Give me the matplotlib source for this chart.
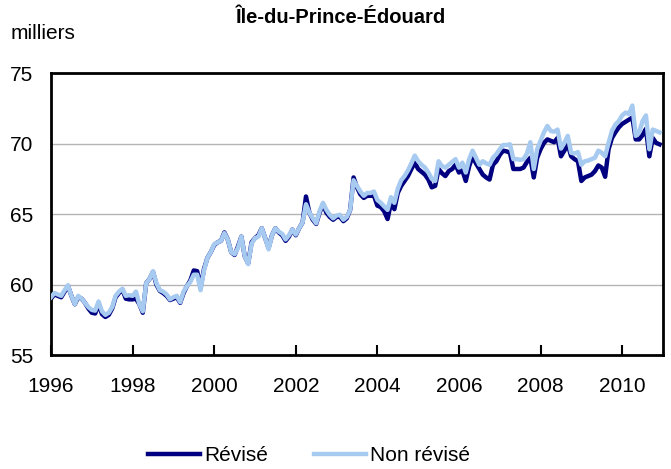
import numpy as np
import matplotlib
matplotlib.use('Agg')
import matplotlib.pyplot as plt

plt.rcParams['font.family'] = ['Liberation Sans', 'DejaVu Sans']

# données mensuelles, janvier 1996 à décembre 2010 (milliers)
non_revise = [
    59.1, 59.4, 59.3, 59.2, 59.6, 59.95, 59.2, 58.6, 59.2, 59.0, 58.7, 58.4,
    58.2, 58.15, 58.8, 58.1, 57.85, 58.0, 58.4, 59.2, 59.5, 59.7, 59.2, 59.25,
    59.2, 59.5, 58.6, 58.1, 60.1, 60.4, 60.95, 60.1, 59.6, 59.5, 59.3, 58.95,
    59.1, 59.2, 58.75, 59.5, 59.9, 60.2, 60.7, 60.7, 59.6, 61.0, 61.9, 62.3,
    62.85, 63.0, 63.1, 63.65, 63.2, 62.3, 62.15, 62.6, 63.4, 62.0, 61.45, 62.9,
    63.3, 63.4, 64.0, 63.3, 62.5, 63.5, 64.0, 63.75, 63.6, 63.2, 63.5, 63.9,
    63.55, 64.0, 64.4, 65.7, 65.1, 64.7, 64.35, 65.2, 65.8, 65.3, 64.95, 64.7,
    64.9, 64.95, 64.6, 64.8, 65.3, 67.4, 67.0, 66.6, 66.3, 66.5, 66.5, 66.6,
    66.0, 65.8, 65.55, 65.3, 66.2, 65.8, 66.8, 67.4, 67.7, 68.1, 68.6, 69.15,
    68.75, 68.5, 68.3, 67.95, 67.5, 67.35, 68.75, 68.4, 68.3, 68.5, 68.7, 68.9,
    68.3, 68.65, 67.95, 68.9, 69.5, 69.0, 68.5, 68.75, 68.6, 68.5, 69.0, 69.25,
    69.6, 69.9, 69.9, 69.95, 68.9, 68.9, 68.85, 68.9, 69.3, 70.1, 68.2, 69.6,
    70.2, 70.8, 71.25, 70.9, 70.85, 71.0, 69.65, 70.05, 70.55, 69.35, 69.3, 69.4,
    68.5, 68.75, 68.8, 68.9, 69.0, 69.5, 69.35, 69.1, 70.05, 70.9, 71.35, 71.6,
    72.0, 72.2, 72.1, 72.7, 70.55, 70.8, 71.6, 72.0, 69.6, 71.0, 70.9, 70.8,
]

revise = [
    59.0, 59.3, 59.2, 59.1, 59.5, 59.9, 59.2, 58.6, 59.1, 59.0, 58.7, 58.3,
    58.0, 57.95, 58.6, 57.9, 57.7, 57.85, 58.3, 59.1, 59.4, 59.65, 59.0, 58.95,
    58.95, 59.0, 58.6, 58.0, 60.1, 60.4, 60.9, 60.0, 59.55, 59.4, 59.2, 58.9,
    59.0, 59.1, 58.7, 59.4, 59.9, 60.3, 61.0, 60.95, 59.8, 61.1, 61.9, 62.3,
    62.8, 63.0, 63.1, 63.7, 63.2, 62.3, 62.1, 62.7, 63.4, 62.0, 61.5, 63.0,
    63.3, 63.5, 64.0, 63.3, 62.6, 63.5, 64.0, 63.7, 63.5, 63.1, 63.4, 63.9,
    63.5, 64.0, 64.4, 66.25, 65.1, 64.6, 64.3, 65.1, 65.7, 65.1, 64.8, 64.6,
    64.8, 64.8, 64.5, 64.7, 65.3, 67.6, 66.9, 66.4, 66.15, 66.3, 66.3, 66.3,
    65.6, 65.5, 65.2, 64.65, 65.8, 65.35, 66.5, 67.0, 67.35, 67.7, 68.2, 68.65,
    68.2, 68.0, 67.8, 67.45, 66.9, 67.0, 68.2, 67.9, 67.7, 68.05, 68.2, 68.5,
    67.95, 68.1, 67.35, 68.4, 69.1, 68.6, 68.2, 67.8, 67.6, 67.45, 68.5, 68.75,
    69.2, 69.5, 69.45, 69.35, 68.2, 68.2, 68.2, 68.3, 68.7, 69.0, 67.6, 69.0,
    69.6, 70.05, 70.3, 70.2, 70.1, 70.4, 69.1, 69.5, 69.95, 69.1, 68.9, 68.75,
    67.35, 67.6, 67.7, 67.8, 68.05, 68.45, 68.3, 67.65, 69.6, 70.4, 70.8, 71.15,
    71.4, 71.55, 71.7, 71.85, 70.3, 70.3, 70.6, 71.05, 69.1, 70.4, 70.05, 69.95,
]

annees = [1996, 1998, 2000, 2002, 2004, 2006, 2008, 2010]

t = 1996 + np.arange(len(revise)) / 12.0

fig = plt.figure(figsize=(6.71, 4.69), dpi=100)
ax = fig.add_axes([0.076, 0.243, 0.912, 0.601])

for v in [60, 65, 70]:
    ax.axhline(v, color='#b4b4b4', lw=1, zorder=1)

ax.plot(t, revise, color='#000080', lw=3.2, label='Révisé', zorder=2,
        solid_joinstyle='round')
ax.plot(t, non_revise, color='#a6caf0', lw=3.2, label='Non révisé', zorder=3,
        solid_joinstyle='round')

ax.set_xlim(1996, 2011)
ax.set_ylim(55, 75)
ax.set_xticks(annees)
ax.set_xticklabels([str(a) for a in annees])
ax.set_yticks([55, 60, 65, 70, 75])

for s in ax.spines.values():
    s.set_linewidth(2)
    s.set_color('black')

ax.tick_params(axis='x', direction='in', length=7, width=1.5, pad=16,
               labelsize=15)
ax.tick_params(axis='y', length=0, pad=13, labelsize=15)

fig.text(0.508, 0.962, 'Île-du-Prince-Édouard', ha='center', va='center',
         fontsize=14.5, fontweight='bold')
fig.text(0.015, 0.928, 'milliers', ha='left', va='center', fontsize=15)

fig.legend(loc='center', bbox_to_anchor=(0.46, 0.028), ncol=2, frameon=False,
           fontsize=15, handlelength=2.5, handletextpad=0.2,
           columnspacing=2.2)

fig.savefig('out.png', dpi=100)
